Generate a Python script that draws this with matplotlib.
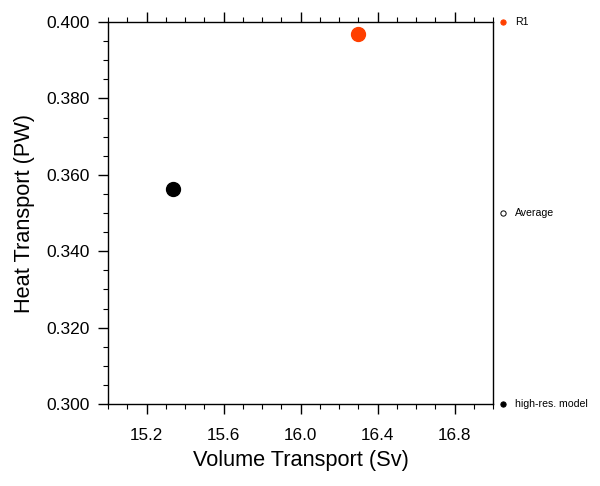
import matplotlib
matplotlib.use("Agg")
import matplotlib.pyplot as plt
from matplotlib.ticker import MultipleLocator, FixedLocator, FormatStrFormatter

plt.rcParams['font.family'] = ['Liberation Sans', 'DejaVu Sans']

names = ["R1", "Average", "high-res. model"]
colors = ["#FF3F00", "black", "black"]
vol = [16.30, None, 15.34]
heat = [0.3968, None, 0.3562]

fig = plt.figure(figsize=(6.0, 4.86), dpi=100)
ax = fig.add_axes([0.18, 0.1687, 0.6417, 0.786])

for n, c, x, y in zip(names, colors, vol, heat):
    if x is not None:
        ax.plot([x], [y], 'o', color=c, markersize=10, zorder=3)

ax.set_xlim(15.0, 17.0)
ax.set_ylim(0.300, 0.400)
ax.xaxis.set_major_locator(FixedLocator([15.2, 15.6, 16.0, 16.4, 16.8]))
ax.xaxis.set_minor_locator(MultipleLocator(0.1))
ax.yaxis.set_major_locator(MultipleLocator(0.02))
ax.yaxis.set_minor_locator(MultipleLocator(0.005))
ax.xaxis.set_major_formatter(FormatStrFormatter('%.1f'))
ax.yaxis.set_major_formatter(FormatStrFormatter('%.3f'))
ax.tick_params(which='major', direction='out', length=7, width=1.0, top=True, right=False)
ax.tick_params(which='minor', direction='out', length=3.5, width=0.8, top=True, right=False)
ax.tick_params(axis='x', which='major', pad=10, labelsize=12.3)
ax.tick_params(axis='y', which='major', pad=6, labelsize=12.5)
for s in ax.spines.values():
    s.set_linewidth(1.0)

ax.set_xlabel("Volume Transport (Sv)", fontsize=15.7, labelpad=5)
ax.set_ylabel("Heat Transport (PW)", fontsize=15.7, labelpad=8)

# legend outside on right
leg_y = [0.400, 0.350, 0.300]
leg_face = ["#FF3F00", "white", "black"]
leg_edge = ["#FF3F00", "black", "black"]
for n, fc, ec, y in zip(names, leg_face, leg_edge, leg_y):
    ax.plot([17.05], [y], 'o', markerfacecolor=fc, markeredgecolor=ec, markeredgewidth=0.7,
            markersize=3.8, clip_on=False)
    ax.text(17.115, y, n, fontsize=7.6, va='center', ha='left', clip_on=False)

fig.savefig("out.png", dpi=100)
